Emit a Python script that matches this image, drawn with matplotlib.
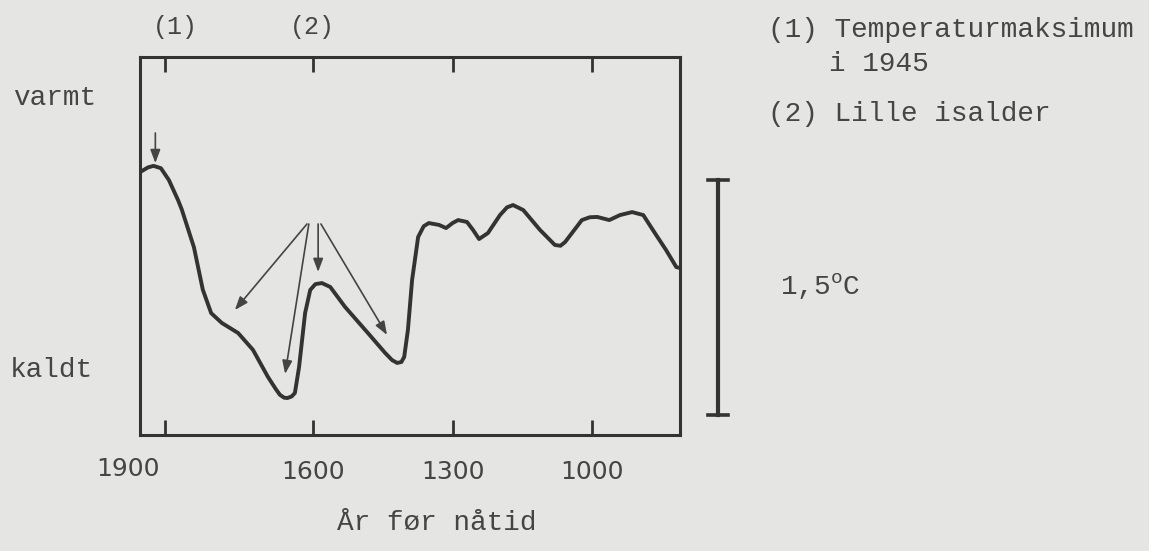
import matplotlib
matplotlib.use("Agg")
import matplotlib.pyplot as plt
import matplotlib.transforms as mtransforms

# ---- data ----
years = [1972, 1955, 1943, 1927, 1910, 1890, 1882, 1856, 1837, 1819, 1796, 1761, 1729,
         1697, 1680, 1671, 1662, 1655, 1646, 1639, 1630, 1617, 1606, 1595, 1581, 1563, 1531, 1482, 1445,
         1430, 1419, 1410, 1404, 1396, 1387, 1374, 1362, 1351, 1329, 1314, 1300, 1288, 1269, 1256, 1243,
         1224, 1198, 1183, 1170, 1148, 1112, 1080, 1068, 1058, 1022, 1005, 989, 963, 940, 914, 890,
         865, 841, 819, 811]
temps = [1.55, 1.58, 1.59, 1.575, 1.50, 1.37, 1.31, 1.07, 0.80, 0.65, 0.587, 0.523, 0.415,
         0.243, 0.165, 0.128, 0.110, 0.108, 0.118, 0.140, 0.306, 0.651, 0.798, 0.835, 0.842, 0.817, 0.689, 0.523, 0.396,
         0.350, 0.332, 0.338, 0.370, 0.542, 0.862, 1.136, 1.205, 1.225, 1.213, 1.193, 1.225, 1.244, 1.232, 1.181, 1.123,
         1.161, 1.276, 1.325, 1.340, 1.308, 1.181, 1.085, 1.080, 1.104, 1.244, 1.262, 1.264, 1.244, 1.276, 1.295, 1.276,
         1.161, 1.053, 0.944, 0.938]

tick_pos = [1918, 1600, 1300, 1000]
tick_labels = ["", "1600", "1300", "1000"]
first_label = "1900"
first_label_pos = 1998
top_labels = ["(1)", "(2)"]
top_label_pos = [1897, 1602]

# arrows: (start_year, start_temp, end_year, end_temp)
arrow_1945 = (1939, 1.80, 1939, 1.608)
arrows_isalder = [(1613, 1.219, 1768, 0.670),
                  (1609, 1.219, 1660, 0.262),
                  (1589, 1.219, 1589, 0.913),
                  (1583, 1.219, 1441, 0.511)]
scale_bar = (0.0, 1.5)

bg = "#e5e5e3"
ink = "#333333"
txt = "#454545"
mono = ["Liberation Mono", "DejaVu Sans Mono"]
sans = ["DejaVu Sans"]

plt.rcParams["mathtext.fontset"] = "custom"
plt.rcParams["mathtext.rm"] = "Liberation Mono"

fig = plt.figure(figsize=(11.49, 5.51), dpi=100, facecolor=bg)
ax = fig.add_axes([140/1149, 1-435/551, 540/1149, 378/551])
ax.set_facecolor(bg)

ax.plot(years, temps, color=ink, lw=2.8, solid_joinstyle="round", solid_capstyle="round")

ax.set_xlim(1972, 811)
ax.set_ylim(-0.128, 2.285)

for s in ax.spines.values():
    s.set_linewidth(2.2)
    s.set_color(ink)

ax.set_yticks([])
ax.set_xticks(tick_pos)
ax.set_xticklabels(tick_labels, fontfamily=sans, fontsize=18, color=txt)
ax.tick_params(axis="x", direction="in", top=True, length=11, width=2.0,
               color=ink, pad=18)

trans = mtransforms.blended_transform_factory(ax.transData, ax.transAxes)
ax.text(first_label_pos, -0.09, first_label, transform=trans, ha="center", va="center",
        fontfamily=sans, fontsize=18, color=txt)
for lab, pos in zip(top_labels, top_label_pos):
    ax.text(pos, 1.08, lab, transform=trans, ha="center", va="center",
            fontfamily=mono, fontsize=18, color=txt)

fig.text(437/1149, 1-523/551, "År før nåtid", fontfamily=mono, fontsize=20, color=txt,
         ha="center", va="center")

aprops = dict(arrowstyle="-|>,head_length=0.8,head_width=0.3", color="#444444", lw=1.2,
              shrinkA=0, shrinkB=0)
x0, y0, x1, y1 = arrow_1945
ax.annotate("", xy=(x1, y1), xytext=(x0, y0), arrowprops=aprops, annotation_clip=False)
for x0, y0, x1, y1 in arrows_isalder:
    ax.annotate("", xy=(x1, y1), xytext=(x0, y0), arrowprops=aprops)

# scale bar 1,5 C
tb = mtransforms.blended_transform_factory(ax.transAxes, ax.transData)
xb = (718-140)/540
ax.plot([xb, xb], list(scale_bar), transform=tb, color=ink, lw=3, clip_on=False)
for yv in scale_bar:
    ax.plot([xb-0.019, xb+0.019], [yv, yv], transform=tb, color=ink, lw=2.6, clip_on=False)

fig.text(780/1149, 1-287/551, r"1,5$^{\mathrm{o}}$C", fontfamily=mono, fontsize=20,
         color=txt, ha="left", va="center")

fig.text(55/1149, 1-98/551, "varmt", fontfamily=mono, fontsize=20, color=txt,
         ha="center", va="center")
fig.text(51/1149, 1-370/551, "kaldt", fontfamily=mono, fontsize=20, color=txt,
         ha="center", va="center")

fig.text(768/1149, 1-30/551, "(1) Temperaturmaksimum", fontfamily=mono, fontsize=20,
         color=txt, ha="left", va="center")
fig.text(829/1149, 1-64/551, "i 1945", fontfamily=mono, fontsize=20,
         color=txt, ha="left", va="center")
fig.text(768/1149, 1-114/551, "(2) Lille isalder", fontfamily=mono, fontsize=20,
         color=txt, ha="left", va="center")

fig.savefig("out.png", dpi=100, facecolor=bg)
